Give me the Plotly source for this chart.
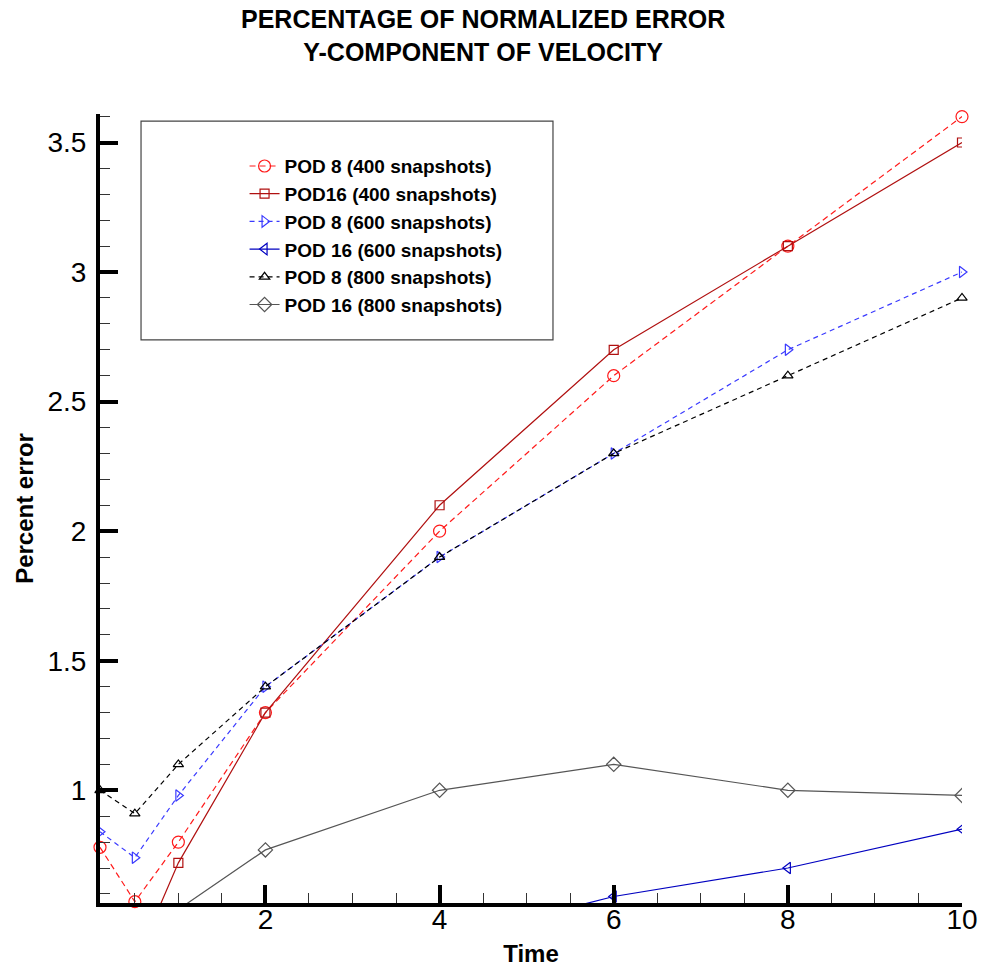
import plotly.graph_objects as go

time = [0.1, 0.5, 1, 2, 4, 6, 8, 10]
pod8_400 = [0.78, 0.57, 0.80, 1.30, 2.00, 2.60, 3.10, 3.60]
pod16_400 = [0.30, 0.33, 0.72, 1.30, 2.10, 2.70, 3.10, 3.50]
pod8_600 = [0.84, 0.74, 0.98, 1.40, 1.90, 2.30, 2.70, 3.00]
pod16_600 = [0.20, 0.25, 0.30, 0.35, 0.42, 0.59, 0.70, 0.85]
pod8_800 = [1.00, 0.91, 1.10, 1.40, 1.90, 2.30, 2.60, 2.90]
pod16_800 = [0.40, 0.45, 0.54, 0.77, 1.00, 1.10, 1.00, 0.98]

names = ["POD 8 (400 snapshots)", "POD16 (400 snapshots)", "POD 8 (600 snapshots)",
         "POD 16 (600 snapshots)", "POD 8 (800 snapshots)", "POD 16 (800 snapshots)"]
series = [pod8_400, pod16_400, pod8_600, pod16_600, pod8_800, pod16_800]
colors = ["#ff1a1a", "#b01010", "#3a3aff", "#0000c0", "#000000", "#555555"]
dashes = ["6px,4px", "solid", "5px,4px", "solid", "5px,4px", "solid"]
symbols = ["circle-open", "square-open", "triangle-right-open", "triangle-left-open",
           "triangle-up-open", "diamond-open"]
sizes = [12, 9, 10, 10, 9, 11]
clip = [False, True, False, True, False, True]

fig = go.Figure()
for n, s, c, d, sym, sz, cl in zip(names, series, colors, dashes, symbols, sizes, clip):
    fig.add_trace(go.Scatter(
        x=time, y=s, name=n, mode="lines+markers",
        line=dict(color=c, width=1.2, dash=d),
        marker=dict(symbol=sym, size=sz, color=c, line=dict(width=1.2, color=c)),
        cliponaxis=cl,
    ))

font = "Liberation Sans, Arial, Helvetica, sans-serif"

fig.update_layout(
    width=982, height=969,
    margin=dict(l=100, r=20, t=114, b=66, autoexpand=False),
    paper_bgcolor="white", plot_bgcolor="white",
    font=dict(family=font, color="black"),
    showlegend=True,
    legend=dict(x=0.1677, y=0.958, xanchor="left", yanchor="top",
                bgcolor="rgba(0,0,0,0)", borderwidth=0,
                font=dict(size=19, family=font, color="black", weight="bold"),
                tracegroupgap=0, itemwidth=30),
    xaxis=dict(range=[0.1, 10], tick0=0, dtick=2, showgrid=False, zeroline=False,
               automargin=False,
               showline=True, linewidth=4, linecolor="black",
               ticks="inside", ticklen=18, tickwidth=4, tickcolor="black",
               ticklabelstandoff=-12,
               tickfont=dict(size=28, family=font),
               minor=dict(dtick=0.5, tick0=0, ticks="inside", ticklen=10, tickwidth=1,
                          tickcolor="#333333", showgrid=False),
               title=dict(text="<b>Time</b>", font=dict(size=24, family=font), standoff=13)),
    yaxis=dict(range=[0.565, 3.61], tick0=0, dtick=0.5, showgrid=False, zeroline=False,
               automargin=False,
               showline=True, linewidth=4, linecolor="black",
               ticks="inside", ticklen=18, tickwidth=4, tickcolor="black",
               ticklabelstandoff=4,
               tickfont=dict(size=28, family=font),
               minor=dict(dtick=0.1, tick0=0, ticks="inside", ticklen=10, tickwidth=1,
                          tickcolor="#333333", showgrid=False),
               title=dict(text="<b>Percent error</b>", font=dict(size=24, family=font), standoff=8)),
    shapes=[dict(type="rect", xref="paper", yref="paper", x0=0.0476, x1=0.5255,
                 y0=0.7136, y1=0.991, line=dict(color="#444444", width=1.2),
                 fillcolor="rgba(0,0,0,0)", layer="below")],
    annotations=[
        dict(text="<b>PERCENTAGE OF NORMALIZED ERROR<br>Y-COMPONENT OF VELOCITY</b>",
             xref="paper", yref="paper",
             x=0.444, y=1.1, xanchor="center", yanchor="middle", showarrow=False,
             align="center", font=dict(size=25, family=font)),
    ],
)

fig.write_html("out.html")
